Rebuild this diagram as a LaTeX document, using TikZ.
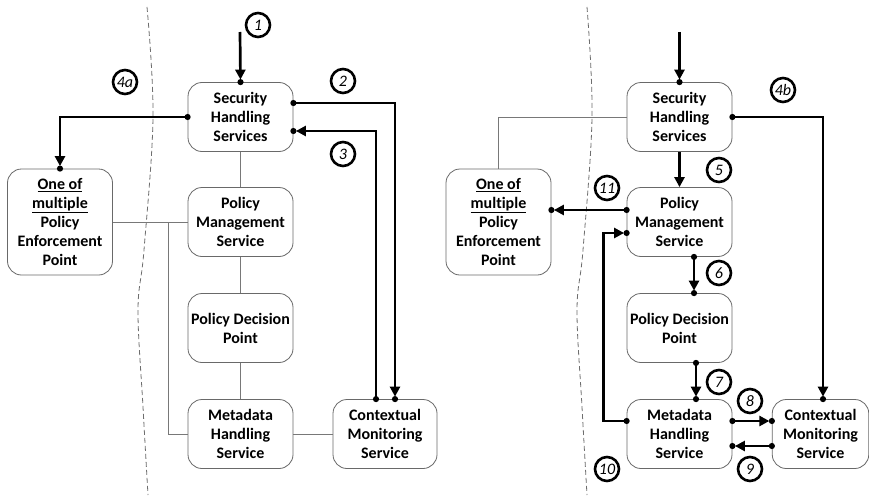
\documentclass[tikz,border=0pt]{standalone}
\usepackage{fontspec}
\setmainfont[Ligatures=NoCommon]{Carlito}
\usetikzlibrary{arrows.meta,calc}
\definecolor{boxline}{RGB}{105,105,105}
\definecolor{thinline}{RGB}{120,120,120}
\definecolor{dashline}{RGB}{110,110,110}
\tikzset{
  svc/.style={draw=boxline, line width=0.8pt, rounded corners=14pt,
    minimum width=105pt, minimum height=69pt, inner sep=2pt, align=center,
    font=\bfseries\fontsize{16}{19}\selectfont},
  link/.style={draw=thinline, line width=0.9pt},
  border/.style={draw=dashline, line width=0.8pt, dash pattern=on 5pt off 3pt},
  flow/.style={line width=2.7pt, -{Triangle[length=10pt,width=10pt]}, shorten >=2.5pt},
  num/.style={circle, draw, line width=2.6pt, minimum size=24pt, inner sep=0pt,
    font=\itshape\fontsize{16}{16}\selectfont},
}
% filled contact point on a box border
\newcommand{\portdot}[1]{\fill (#1) circle (3.1pt);}
\begin{document}
\begin{tikzpicture}[x=1pt,y=-1pt]
\path[use as bounding box, fill=white] (0,0) rectangle (869,495);

% trust-domain borders
\draw[border] plot[smooth, tension=0.6] coordinates {(147,7) (153,117) (144,250) (138,310) (143,407) (148,495)};
\draw[border] plot[smooth, tension=0.6] coordinates {(587,7) (592,117) (583,250) (577,310) (582,407) (587,495)};

% ---------- first scenario ----------
\node[svc] (shsA) at (240.5,117) {Security\\Handling\\Services};
\node[svc, minimum height=106pt] (pepA) at (60,222) {\underline{One of}\\\underline{multiple}\\Policy\\Enforcement\\Point};
\node[svc] (pmsA) at (240.5,222) {Policy\\Management\\Service};
\node[svc] (pdpA) at (240.5,328) {Policy Decision\\Point};
\node[svc] (mhsA) at (240.5,434) {Metadata\\Handling\\Service};
\node[svc, minimum width=104pt] (cmsA) at (385,434) {Contextual\\Monitoring\\Service};

\draw[link] (shsA) -- (pmsA);
\draw[link] (pmsA) -- (pdpA);
\draw[link] (pdpA) -- (mhsA);
\draw[link] (mhsA) -- (cmsA);
\draw[link] (pepA.east) -- (pmsA.west);
\draw[link] ($(pmsA.west)+(-19,0)$) |- (mhsA.west);

\coordinate (inA) at (240,32);
\coordinate (a2s) at ($(shsA.east)+(0,-14)$);
\coordinate (a2e) at ($(cmsA.north)+(10,0)$);
\coordinate (a3s) at ($(cmsA.north)+(-9,0)$);
\coordinate (a3e) at ($(shsA.east)+(0,14)$);

\draw[flow] (inA) -- (shsA.north);
\draw[flow] (shsA.west) -| (pepA.north);
\draw[flow] (a2s) -| (a2e);
\draw[flow] (a3s) |- (a3e);
\portdot{shsA.north}
\portdot{shsA.west}\portdot{pepA.north}
\portdot{a2s}\portdot{a2e}
\portdot{a3s}\portdot{a3e}

\node[num] (n1) at (258,25) {1};
\node[num] (n2) at (343,81) {2};
\node[num] (n3) at (343,154) {3};
\node[num] (n4a) at (125,82) {4a};

% ---------- second scenario ----------
\node[svc] (shsB) at (679.5,117) {Security\\Handling\\Services};
\node[svc, minimum height=106pt] (pepB) at (498.5,222) {\underline{One of}\\\underline{multiple}\\Policy\\Enforcement\\Point};
\node[svc] (pmsB) at (679.5,222) {Policy\\Management\\Service};
\node[svc] (pdpB) at (679.5,328) {Policy Decision\\Point};
\node[svc] (mhsB) at (679.5,434) {Metadata\\Handling\\Service};
\node[svc, minimum width=96.5pt] (cmsB) at (820.5,434) {Contextual\\Monitoring\\Service};

\draw[link] (shsB.west) -| (pepB.north);

\coordinate (inB) at (679.5,32);
\coordinate (b4e) at ($(cmsB.north)+(2.5,0)$);
\coordinate (b11s) at ($(pmsB.west)+(0,-12)$);
\coordinate (b11e) at ($(pepB.east)+(0,-12)$);
\coordinate (b10s) at ($(mhsB.west)+(0,-13)$);
\coordinate (b10e) at ($(pmsB.west)+(0,11)$);
\coordinate (b6s) at ($(pmsB.south)+(14.5,0)$);
\coordinate (b6e) at ($(pdpB.north)+(14.5,0)$);
\coordinate (b7s) at ($(pdpB.south)+(16.5,0)$);
\coordinate (b7e) at ($(mhsB.north)+(16.5,0)$);
\coordinate (b8s) at ($(mhsB.east)+(0,-13)$);
\coordinate (b8e) at ($(cmsB.west)+(0,-13)$);
\coordinate (b9s) at ($(cmsB.west)+(0,12)$);
\coordinate (b9e) at ($(mhsB.east)+(0,12)$);

\draw[flow] (inB) -- (shsB.north);
\draw[flow] (shsB.east) -| (b4e);
\draw[flow, shorten >=0pt] (shsB.south) -- (pmsB.north);
\draw[flow] (b11s) -- (b11e);
\draw[flow] (b10s) -- ++(-23,0) |- (b10e);
\draw[flow] (b6s) -- (b6e);
\draw[flow] (b7s) -- (b7e);
\draw[flow] (b8s) -- (b8e);
\draw[flow] (b9s) -- (b9e);
\portdot{shsB.north}
\portdot{shsB.east}\portdot{b4e}
\portdot{b11s}\portdot{b11e}
\portdot{b10s}\portdot{b10e}
\portdot{b6s}\portdot{b6e}
\portdot{b7s}\portdot{b7e}
\portdot{b8s}\portdot{b8e}
\portdot{b9s}\portdot{b9e}

\node[num] (n4b) at (783,90) {4b};
\node[num] (n5) at (719,170) {5};
\node[num] (n11) at (607,188) {11};
\node[num] (n6) at (719,273) {6};
\node[num] (n7) at (719,382) {7};
\node[num] (n8) at (750,401) {8};
\node[num] (n9) at (750,469) {9};
\node[num] (n10) at (607,469) {10};
\end{tikzpicture}
\end{document}
